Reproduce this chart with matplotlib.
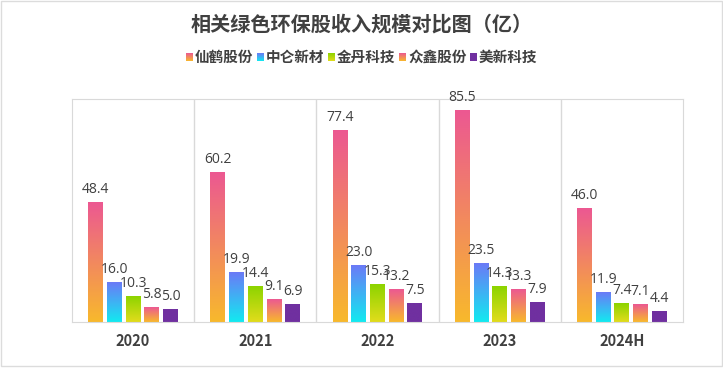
import matplotlib
matplotlib.use("Agg")
import matplotlib.pyplot as plt
import numpy as np
from matplotlib.colors import LinearSegmentedColormap
from matplotlib.patches import Rectangle

plt.rcParams['font.family'] = ['Noto Sans CJK SC', 'DejaVu Sans']

years = ['2020', '2021', '2022', '2023', '2024H']
companies = ['仙鹤股份', '中仑新材', '金丹科技', '众鑫股份', '美新科技']
xianhe = [48.4, 60.2, 77.4, 85.5, 46.0]
zhonglun = [16.0, 19.9, 23.0, 23.5, 11.9]
jindan = [10.3, 14.4, 15.3, 14.3, 7.4]
zhongxin = [5.8, 9.1, 13.2, 13.3, 7.1]
meixin = [5.0, 6.9, 7.5, 7.9, 4.4]
series = [xianhe, zhonglun, jindan, zhongxin, meixin]

# (bottom colour, top colour) per series
grads = [('#f8b92c', '#ec5892'),
         ('#12eaf0', '#6b7af7'),
         ('#e2dc1c', '#8cd400'),
         ('#f8b92c', '#ec5892'),
         ('#7030a0', '#7030a0')]

fig = plt.figure(figsize=(7.23, 3.76), dpi=100)
ax = fig.add_axes([72 / 723, 1 - 322 / 376, 611 / 723, 223 / 376])

width = 0.122
step = 0.153
grad = np.linspace(0, 1, 256).reshape(-1, 1)
cmaps = [LinearSegmentedColormap.from_list('g%d' % i, g) for i, g in enumerate(grads)]
for i, vals in enumerate(series):
    for j, v in enumerate(vals):
        x0 = j + (i - 2) * step - width / 2
        ax.imshow(grad, cmap=cmaps[i], origin='lower', aspect='auto',
                  extent=[x0, x0 + width, 0, v], zorder=2)
        ax.text(x0 + width / 2, v + 2.2, '%.1f' % v, ha='center', va='bottom',
                fontsize=10, color='#404040', family=['Open Sans', 'DejaVu Sans'])

ax.set_xlim(-0.5, len(years) - 0.5)
ax.set_ylim(0, 90)
for k in range(1, len(years)):
    ax.axvline(k - 0.5, color='#d9d9d9', lw=1, zorder=1)
for s in ax.spines.values():
    s.set_color('#d9d9d9')
ax.set_yticks([])
ax.set_xticks(range(len(years)))
ax.set_xticklabels(years, fontsize=10.5, fontweight='bold', color='#404040')
ax.tick_params(axis='x', length=0, pad=8)

fig.text(0.5, 1 - 24 / 376, '相关绿色环保股收入规模对比图（亿）', ha='center', va='center',
         fontsize=14.5, fontweight='bold', color='#404040')

# legend with gradient squares, laid out by hand
lax = fig.add_axes([0, 1 - 66 / 376, 1, 18 / 376])
x = 186
for i, name in enumerate(companies):
    lax.imshow(grad, cmap=cmaps[i], origin='lower', aspect='auto',
               extent=[x, x + 6.5, 5, 13])
    lax.text(x + 9, 9, name, ha='left', va='center', fontsize=10.5,
             fontweight='bold', color='#404040')
    x += 71
lax.set_xlim(0, 723)
lax.set_ylim(0, 18)
lax.axis('off')

fig.patches.append(Rectangle((0.001, 1 - 366 / 376), 0.997, 365 / 376, transform=fig.transFigure,
                             fill=False, edgecolor='#dcdcdc', lw=1))
fig.savefig('out.png', dpi=100)
